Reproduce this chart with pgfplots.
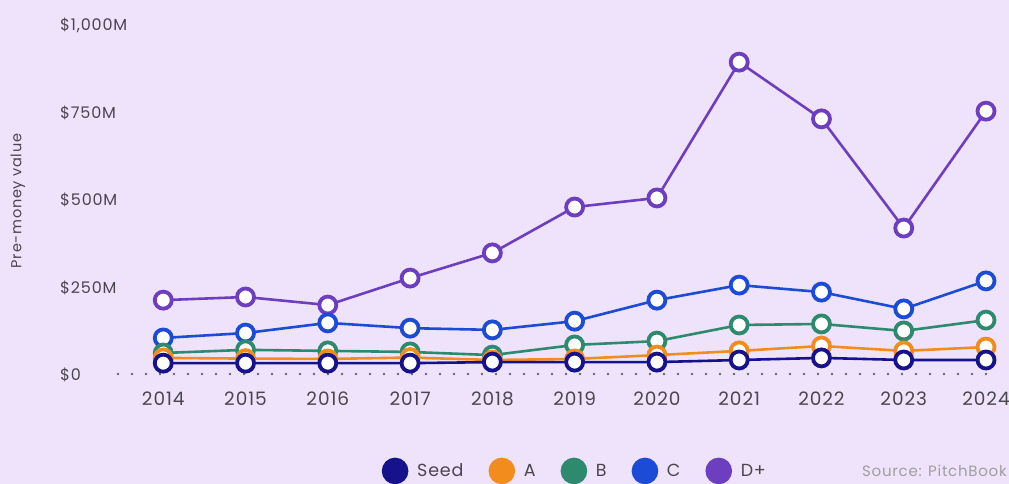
\documentclass[border=0pt]{standalone}
\usepackage{fontspec}
\setmainfont{Poppins}[LetterSpace=5]
\usepackage{pgfplots}
\pgfplotsset{compat=1.18}
\definecolor{bg}{HTML}{EFE3FB}
\definecolor{cseed}{HTML}{16128C}
\definecolor{ca}{HTML}{F28C1C}
\definecolor{cb}{HTML}{2E8A6E}
\definecolor{cc}{HTML}{1C4BD6}
\definecolor{cd}{HTML}{6E3EC0}
\definecolor{txt}{HTML}{4A4650}
\begin{document}
\begin{tikzpicture}[x=1pt,y=1pt]
\fill[bg] (0,0) rectangle (1009,484);
\path[use as bounding box] (0,0) rectangle (1009,484);
\begin{axis}[
  at={(118pt,110pt)}, anchor=south west,
  scale only axis, width=882pt, height=350pt,
  xmin=2013.45, xmax=2024.17, ymin=0, ymax=1000,
  clip=false,
  axis line style={draw=none}, tick style={draw=none},
  xtick={2014,2015,2016,2017,2018,2019,2020,2021,2022,2023,2024},
  xticklabels={2014,2015,2016,2017,2018,2019,2020,2021,2022,2023,2024},
  xticklabel style={font=\fontsize{18.5}{20}\selectfont, text=txt, yshift=-14pt},
  ytick={0,250,500,750,1000},
  yticklabels={\$0,\$250M,\$500M,\$750M,{\$1,000M}},
  yticklabel style={font=\fontsize{16}{18}\selectfont, text=txt, anchor=west, inner sep=0pt, xshift=-58pt, yshift=-1pt},
  legend columns=5,
  legend style={at={(0.518,-0.277)}, anchor=center, draw=none, fill=none,
    font=\fontsize{17.5}{19}\selectfont, text=txt,
    /tikz/every even column/.style={column sep=23pt}},
  legend image code/.code={\fill[#1] (0pt,0pt) circle (12pt); \path[draw=none,fill=none] (-12pt,-1pt) rectangle (20pt,1pt);},
  every axis plot/.append style={line width=2.6pt, mark=*, mark size=8.5pt, mark options={fill=white, line width=3.8pt}},
]
\addplot[forget plot, color=gray!80!black, line width=2.6pt, mark=none, line cap=round, dash pattern=on 0pt off 14pt] coordinates {(2013.45,0) (2024.17,0)};
\addplot[forget plot, color=cd] coordinates {(2014,211) (2015,220) (2016,197) (2017,274) (2018,346) (2019,477) (2020,503) (2021,891) (2022,729) (2023,417) (2024,751)};
\addplot[forget plot, color=cc] coordinates {(2014,103) (2015,117) (2016,146) (2017,131) (2018,126) (2019,151) (2020,211) (2021,254) (2022,234) (2023,186) (2024,266)};
\addplot[forget plot, color=cb] coordinates {(2014,60) (2015,69) (2016,66) (2017,63) (2018,54) (2019,83) (2020,94) (2021,140) (2022,143) (2023,123) (2024,154)};
\addplot[forget plot, color=ca] coordinates {(2014,46) (2015,44) (2016,43) (2017,47) (2018,40) (2019,43) (2020,54) (2021,66) (2022,80) (2023,66) (2024,77)};
\addplot[forget plot, color=cseed] coordinates {(2014,31) (2015,31) (2016,31) (2017,31) (2018,34) (2019,34) (2020,34) (2021,40) (2022,46) (2023,40) (2024,40)};
\addlegendimage{cseed}\addlegendentry{Seed}
\addlegendimage{ca}\addlegendentry{A}
\addlegendimage{cb}\addlegendentry{B}
\addlegendimage{cc}\addlegendentry{C}
\addlegendimage{cd}\addlegendentry{D+}
\end{axis}
\node[rotate=90, font=\fontsize{14.5}{16}\selectfont, text=txt] at (18,283) {Pre-money value};
\node[anchor=east, font=\fontsize{15}{17}\selectfont, text=gray!75, inner sep=1pt] at (1008,13) {Source: PitchBook};
\end{tikzpicture}
\end{document}
